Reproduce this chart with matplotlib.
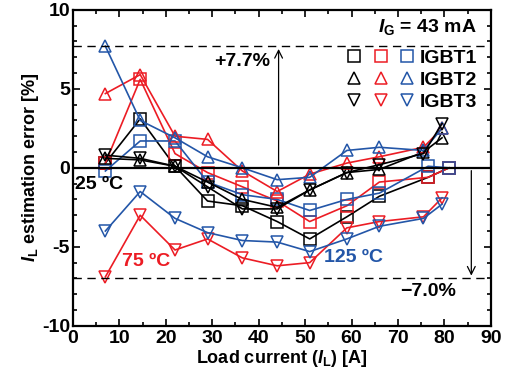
import matplotlib
matplotlib.use('Agg')
import matplotlib.pyplot as plt
from matplotlib.lines import Line2D
from matplotlib.ticker import MultipleLocator

plt.rcParams['font.family'] = 'Liberation Sans'
plt.rcParams['font.weight'] = 'bold'
plt.rcParams['axes.labelweight'] = 'bold'
plt.rcParams['axes.unicode_minus'] = False
plt.rcParams['mathtext.fontset'] = 'custom'
plt.rcParams['mathtext.rm'] = 'Liberation Sans:bold'
plt.rcParams['mathtext.it'] = 'Liberation Sans:italic:bold'
plt.rcParams['mathtext.bf'] = 'Liberation Sans:bold'

# load current points [A]
x_sq = [7, 14.5, 22, 29, 36.5, 44, 51, 59, 66, 76.5, 81]
x_tri = [7, 14.5, 22, 29, 36.5, 44, 51, 59, 66, 75.5, 79.5]

# estimation error [%] -- IGBT1 (squares)
igbt1_25 = [0.3, 3.1, 0.1, -2.1, -2.4, -3.4, -4.5, -3.1, -1.8, -0.6, 0.0]
igbt1_75 = [0.3, 5.6, 0.9, -0.3, -1.2, -2.1, -3.4, -2.4, -0.9, -0.6, 0.0]
igbt1_125 = [-0.2, 1.7, 1.7, -0.9, -1.7, -2.0, -2.7, -2.0, -1.6, 0.1, 0.0]
# IGBT2 (up triangles)
igbt2_25 = [0.6, 0.5, 0.1, -0.9, -2.0, -2.5, -1.4, -0.3, -0.1, 1.0, 1.9]
igbt2_75 = [4.7, 5.9, 2.0, 1.8, -0.2, -1.5, -0.4, 0.3, 0.7, 1.3, 2.5]
igbt2_125 = [7.7, 3.0, 1.9, 0.7, 0.0, -0.75, -0.6, 1.1, 1.3, 1.1, 2.5]
# IGBT3 (down triangles)
igbt3_25 = [0.8, 0.6, 0.1, -1.2, -2.6, -2.6, -1.4, -0.3, 0.2, 0.9, 2.8]
igbt3_75 = [-6.9, -3.0, -5.2, -4.5, -5.7, -6.2, -6.0, -3.8, -3.4, -3.1, -1.9]
igbt3_125 = [-4.0, -1.5, -3.2, -4.1, -4.6, -4.7, -5.3, -4.5, -3.7, -3.2, -2.3]

err_max = 7.7
err_min = -7.0

c25, c75, c125 = 'black', '#ec1c24', '#2356a8'

fig = plt.figure(figsize=(5.06, 3.78), dpi=100)
ax = fig.add_axes([0.144, 0.138, 0.826, 0.836])

style = dict(lw=1.2, ms=8.5, mfc='none', mew=1.1)
series = [
    (x_sq, igbt1_25, c25, 's'), (x_sq, igbt1_75, c75, 's'), (x_sq, igbt1_125, c125, 's'),
    (x_tri, igbt2_25, c25, '^'), (x_tri, igbt2_75, c75, '^'), (x_tri, igbt2_125, c125, '^'),
    (x_tri, igbt3_25, c25, 'v'), (x_tri, igbt3_75, c75, 'v'), (x_tri, igbt3_125, c125, 'v'),
]
for xs, ys, c, m in series:
    ax.plot(xs, ys, color=c, marker=m, mec=c, **style)

ax.axhline(0, color='black', lw=1.6)
ax.axhline(err_max, color='black', lw=1.0, ls=(0, (6, 4)))
ax.axhline(err_min, color='black', lw=1.0, ls=(0, (6, 4)))
ax.annotate('', xy=(44.3, err_max), xytext=(44.3, 0),
            arrowprops=dict(arrowstyle='->', lw=0.9, color='black', mutation_scale=14))
ax.annotate('', xy=(85.8, err_min), xytext=(85.8, 0),
            arrowprops=dict(arrowstyle='->', lw=0.9, color='black', mutation_scale=14))

ax.text(42.5, 6.7, '+7.7%', ha='right', va='center', fontsize=14)
ax.text(82.5, -7.8, '\u22127.0%', ha='right', va='center', fontsize=14)
ax.text(87, 8.9, r'$\mathit{I}_{\mathrm{G}}$ = 43 mA', ha='right', va='center', fontsize=14)
ax.text(0.4, -1.05, '25 \u00baC', ha='left', va='center', fontsize=14, color=c25)
ax.text(10.6, -5.9, '75 \u00baC', ha='left', va='center', fontsize=14, color=c75)
ax.text(54, -5.7, '125 \u00baC', ha='left', va='center', fontsize=14, color=c125)

handles, labels = [], []
for c in (c25, c75, c125):
    for m, name in (('s', 'IGBT1'), ('^', 'IGBT2'), ('v', 'IGBT3')):
        handles.append(Line2D([], [], ls='none', marker=m, mec=c, mfc='none', ms=9, mew=1.1))
        labels.append(name if c == c125 else '')
leg = ax.legend(handles, labels, ncol=3, loc='upper right', bbox_to_anchor=(0.985, 0.9),
                frameon=False, fontsize=14, handlelength=1.0, handletextpad=0.15,
                columnspacing=0.2, labelspacing=0.22, borderaxespad=0)

ax.set_xlim(0, 90)
ax.set_ylim(-10, 10)
ax.xaxis.set_major_locator(MultipleLocator(10))
ax.xaxis.set_minor_locator(MultipleLocator(5))
ax.yaxis.set_major_locator(MultipleLocator(5))
ax.yaxis.set_minor_locator(MultipleLocator(1))
ax.tick_params(which='both', direction='in', top=True, right=True, labelsize=14, width=1.2)
ax.tick_params(which='major', length=5, pad=2)
ax.tick_params(axis='x', which='major', pad=3)
ax.tick_params(which='minor', length=3)
for s in ax.spines.values():
    s.set_linewidth(1.6)

ax.set_xlabel(r'Load current ($\mathit{I}_{\mathrm{L}}$) [A]', fontsize=13, labelpad=1)
ax.set_ylabel(r'$\mathit{I}_{\mathrm{L}}$ estimation error [%]', fontsize=13, labelpad=1)

fig.savefig('out.png', dpi=100)
